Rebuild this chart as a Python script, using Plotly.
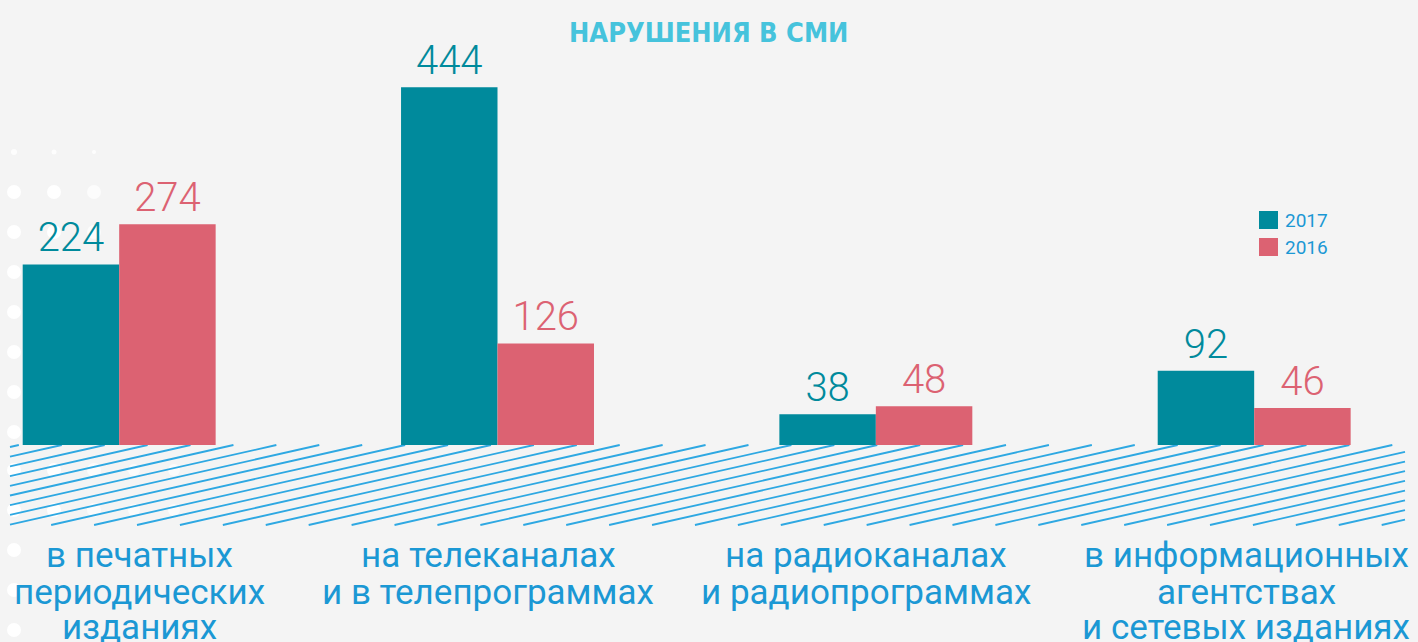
import plotly.graph_objects as go

# ---- data ----
categories = ["в печатных<br>периодических<br>изданиях",
              "на телеканалах<br>и в телепрограммах",
              "на радиоканалах<br>и радиопрограммах",
              "в информационных<br>агентствах<br>и сетевых изданиях"]
series_names = ["2017", "2016"]
values_2017 = [224, 444, 38, 92]
values_2016 = [274, 126, 48, 46]
title_text = "НАРУШЕНИЯ В СМИ"

# ---- styles ----
W, H = 1418, 642
BG = "#f4f4f4"
TEAL = "#008a9c"
PINK = "#dc6272"
LABEL_BLUE = "#1b98d4"
TITLE_BLUE = "#46c3dc"
HATCH = "#2ea8e2"
FONT = "Roboto, 'Noto Sans', sans-serif"


def px(x):
    return x / W


def py(y):
    return 1 - y / H


idx = list(range(len(categories)))

fig = go.Figure()
fig.add_trace(go.Bar(x=idx, y=values_2017, name=series_names[0], marker=dict(color=TEAL, line=dict(width=0)),
                     text=[str(v) for v in values_2017], textposition="outside",
                     textfont=dict(color=TEAL, size=40, family=FONT, weight=300), cliponaxis=False,
                     showlegend=False))
fig.add_trace(go.Bar(x=idx, y=values_2016, name=series_names[1], marker=dict(color=PINK, line=dict(width=0)),
                     text=[str(v) for v in values_2016], textposition="outside",
                     textfont=dict(color=PINK, size=40, family=FONT, weight=300), cliponaxis=False,
                     showlegend=False))

shapes = []
# decorative white dots on the left
dot_rows = [192, 232, 272, 312, 352, 392, 432, 470, 510, 550, 590, 630]
for r in dot_rows:
    cols = [14]
    if r in (192, 232):
        cols = [14, 54, 94]
    if r in (470, 510):
        cols = [14, 54, 94, 134, 174]
    for c in cols:
        rad = 7 if c < 100 else 6
        op = 1.0 if c < 60 else 0.7
        shapes.append(dict(type="circle", xref="paper", yref="paper", layer="below",
                           x0=px(c - rad), x1=px(c + rad), y0=py(r + rad), y1=py(r - rad),
                           fillcolor="white", opacity=op, line=dict(width=0)))
for c, rad in [(14, 3), (54, 2.5), (94, 2)]:
    shapes.append(dict(type="circle", xref="paper", yref="paper", layer="below",
                       x0=px(c - rad), x1=px(c + rad), y0=py(152 + rad), y1=py(152 - rad),
                       fillcolor="white", opacity=0.8, line=dict(width=0)))

# hatch band under the bars
hx0, hx1, hy0, hy1 = 10, 1405, 445, 525
slope = 0.226
step = 9.7
path = []
c = hy0 + 2
while c < hy1 + slope * (hx1 - hx0) + step:
    xs = max(hx0, hx0 + (c - hy1) / slope)
    xe = min(hx1, hx0 + (c - hy0) / slope)
    if xs < xe:
        ys = c - slope * (xs - hx0)
        ye = c - slope * (xe - hx0)
        path.append(f"M{px(xs):.5f},{py(ys):.5f}L{px(xe):.5f},{py(ye):.5f}")
    c += step
shapes.append(dict(type="path", xref="paper", yref="paper", path="".join(path), layer="below",
                   line=dict(color=HATCH, width=1.8)))

# legend squares
for i, (col, y0) in enumerate([(TEAL, 211), (PINK, 238)]):
    shapes.append(dict(type="rect", xref="paper", yref="paper", x0=px(1259), x1=px(1278),
                       y0=py(y0 + 18), y1=py(y0), fillcolor=col, line=dict(width=0)))

annotations = [dict(text=f"<b>{title_text}</b>", xref="paper", yref="paper", x=px(708), y=py(33),
                    xanchor="center", yanchor="middle", showarrow=False,
                    font=dict(family="'Liberation Sans Narrow', 'DejaVu Sans Condensed', Roboto, sans-serif",
                              size=27, color=TITLE_BLUE))]
for name, y in zip(series_names, [220, 247]):
    annotations.append(dict(text=name, xref="paper", yref="paper", x=px(1283), y=py(y),
                            xanchor="left", yanchor="middle", showarrow=False,
                            font=dict(family=FONT, size=19, color=LABEL_BLUE)))
label_x = [139, 488, 866, 1246]
line_y = [555, 592, 627]
for cat, lx in zip(categories, label_x):
    for j, line in enumerate(cat.split("<br>")):
        annotations.append(dict(text=line, xref="paper", yref="paper", x=px(lx), y=py(line_y[j]),
                                xanchor="center", yanchor="middle", align="center", showarrow=False,
                                font=dict(family=FONT, size=35, color=LABEL_BLUE)))

fig.update_layout(
    width=W, height=H,
    margin=dict(l=0, r=0, t=0, b=0),
    paper_bgcolor=BG, plot_bgcolor=BG,
    barmode="group", bargap=0.49, bargroupgap=0,
    xaxis=dict(range=[-0.315, 3.433], visible=False, fixedrange=True),
    yaxis=dict(range=[-(H - 445) / 0.806, 445 / 0.806], visible=False, fixedrange=True),
    shapes=shapes, annotations=annotations,
    showlegend=False,
)

fig.write_html("out.html", config={"displayModeBar": False},
               post_script="document.body.style.margin='0';document.body.style.overflow='hidden';")
